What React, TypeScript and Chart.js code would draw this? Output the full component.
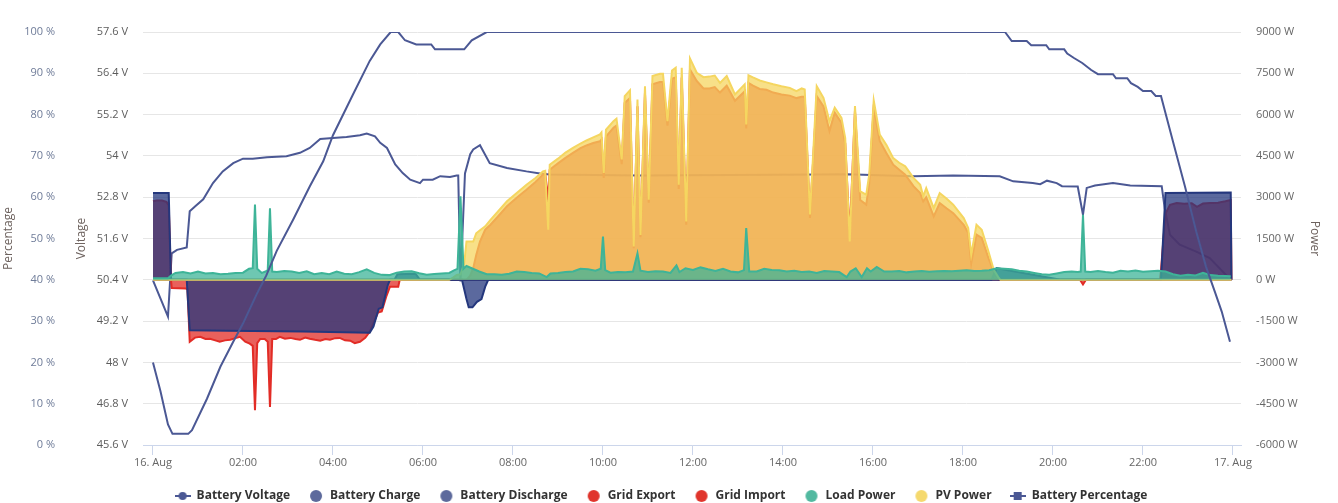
import React, { useEffect, useRef } from 'react';
import Chart from 'chart.js/auto';

// ---------- axis ticks ----------
const xTicks = [0, 120, 240, 360, 480, 600, 720, 840, 960, 1080, 1200, 1320, 1440];
const xTickLabels = ['16. Aug', '02:00', '04:00', '06:00', '08:00', '10:00', '12:00', '14:00', '16:00', '18:00', '20:00', '22:00', '17. Aug'];
const pctTicks = [0, 10, 20, 30, 40, 50, 60, 70, 80, 90, 100];
const voltTicks = [45.6, 46.8, 48, 49.2, 50.4, 51.6, 52.8, 54, 55.2, 56.4, 57.6];
const powerTicks = [-6000, -4500, -3000, -1500, 0, 1500, 3000, 4500, 6000, 7500, 9000];

// ---------- series: [minutes since 16 Aug 00:00, value] ----------
const batteryVoltage: [number, number][] = [
  [0, 50.38], [20, 49.33], [25, 51.17], [32, 51.27], [45, 51.34], [49, 52.39], [56, 52.53], [67, 52.74], [80, 53.21],
  [93, 53.55], [107, 53.79], [120, 53.92], [133, 53.92], [152, 53.96], [178, 53.99], [196, 54.09], [209, 54.23],
  [223, 54.49], [240, 54.52], [258, 54.55], [276, 54.6], [285, 54.65], [296, 54.57], [303, 54.38], [312, 54.23],
  [323, 53.75], [333, 53.5], [343, 53.31], [356, 53.21], [360, 53.31], [373, 53.31], [383, 53.41], [396, 53.39],
  [405, 53.43], [407, 53.43], [410, 50.35], [416, 53.49], [423, 54.05], [427, 54.19], [436, 54.31], [449, 53.79],
  [472, 53.65], [498, 53.55], [516, 53.49], [529, 53.46], [649, 53.43], [889, 53.46], [925, 53.47], [1013, 53.41],
  [1067, 53.43], [1129, 53.41], [1147, 53.26], [1173, 53.21], [1183, 53.18], [1192, 53.28], [1205, 53.21],
  [1212, 53.12], [1233, 53.11], [1240, 52.29], [1245, 53.07], [1256, 53.14], [1280, 53.21], [1303, 53.14],
  [1345, 53.12], [1349, 52.48], [1356, 51.71], [1369, 51.42], [1391, 51.22], [1409, 51.03], [1433, 50.49],
];

const batteryCharge: [number, number][] = [
  [0, 3150], [21, 3150], [24, 0], [322, 0], [326, 200], [350, 220], [356, 0], [1118, 0], [1125, 420], [1210, 0],
  [1344, 0], [1350, 3150], [1437, 3170], [1438, 0],
];

const batteryDischarge: [number, number][] = [
  [0, 0], [45, 0], [49, -1830], [100, -1850], [200, -1880], [289, -1920], [294, -1700], [301, -1050], [306, -1000],
  [313, -200], [316, 0], [412, 0], [418, -700], [421, -1000], [426, -1000], [432, -800], [438, -700], [443, -250],
  [447, 0], [1438, 0],
];

const gridExport: [number, number][] = [
  [0, 0], [418, 0], [423, 150], [427, 420], [431, 900], [436, 1390], [443, 1820], [450, 2000], [460, 2300],
  [472, 2670], [485, 2980], [498, 3270], [510, 3550], [520, 3820], [523, 3860], [527, 2900], [529, 4000],
  [540, 4230], [550, 4430], [560, 4610], [570, 4780], [578, 4880], [587, 4970], [596, 5030], [598, 5100],
  [601, 3700], [604, 5200], [614, 5520], [618, 5600], [625, 4200], [629, 6420], [636, 6600], [641, 1150],
  [646, 6300], [650, 1550], [656, 6780], [661, 2800], [666, 7100], [676, 7180], [680, 7180], [686, 5600],
  [692, 7300], [697, 7350], [701, 3300], [705, 7350], [711, 2000], [716, 7640], [725, 7220], [734, 6950],
  [742, 6950], [749, 7000], [756, 6800], [765, 7050], [776, 6500], [789, 6850], [791, 5500], [794, 7150],
  [800, 7050], [809, 6930], [818, 6900], [827, 6800], [838, 6730], [849, 6690], [858, 6600], [865, 6650],
  [869, 6650], [876, 2250], [885, 6670], [894, 6300], [902, 5400], [909, 6070], [918, 5700], [923, 4950],
  [929, 1600], [936, 6130], [943, 2900], [951, 2730], [955, 3500], [961, 6250], [969, 5040], [978, 4600],
  [987, 4180], [995, 4000], [1003, 3820], [1014, 3400], [1023, 3150], [1027, 2850], [1031, 3000], [1041, 2300],
  [1049, 2790], [1058, 2600], [1067, 2420], [1081, 2000], [1087, 1700], [1091, 600], [1098, 1640], [1105, 1520],
  [1114, 790], [1121, 300], [1127, 0], [1438, 0],
];

const gridImport: [number, number][] = [
  [0, 2850], [5, 2880], [12, 2880], [18, 2830], [21, 2700], [24, 0], [25, -300], [44, -320], [46, -350],
  [49, -2250], [56, -2100], [63, -2070], [70, -2150], [76, -2140], [83, -2200], [89, -2250], [96, -2200],
  [103, -2180], [110, -2120], [116, -2070], [123, -2250], [129, -2320], [133, -2400], [136, -4740], [139, -2300],
  [143, -2150], [149, -2150], [153, -2250], [156, -4620], [159, -2150], [164, -2150], [169, -2070], [176, -2140],
  [183, -2110], [190, -2150], [196, -2180], [203, -2100], [209, -2140], [216, -2180], [223, -2210], [230, -2150],
  [236, -2180], [243, -2120], [249, -2110], [256, -2200], [263, -2210], [269, -2300], [276, -2250], [283, -2110],
  [289, -1890], [296, -1450], [300, -1190], [305, -1150], [311, -610], [316, -250], [327, -250], [329, 0],
  [1236, 0], [1240, -170], [1244, 0], [1343, 0], [1350, 2400], [1356, 2720], [1365, 2790], [1375, 2760],
  [1385, 2780], [1392, 2650], [1400, 2770], [1410, 2790], [1420, 2800], [1430, 2850], [1437, 2900], [1438, 0],
];

const loadPower: [number, number][] = [
  [0, 60], [20, 60], [24, 150], [30, 250], [40, 280], [50, 230], [60, 300], [70, 230], [80, 250], [90, 200],
  [100, 220], [110, 250], [120, 260], [128, 400], [133, 420], [136, 2730], [139, 400], [145, 250], [150, 300],
  [153, 350], [156, 2600], [159, 300], [165, 280], [175, 320], [185, 300], [195, 250], [205, 310], [215, 200],
  [225, 250], [235, 200], [245, 300], [255, 220], [265, 200], [275, 280], [285, 380], [295, 250], [305, 180],
  [315, 170], [325, 260], [335, 300], [345, 310], [355, 240], [365, 180], [375, 210], [385, 230], [395, 250],
  [402, 350], [406, 400], [410, 3030], [414, 400], [418, 500], [425, 420], [435, 300], [445, 200], [455, 200],
  [465, 180], [475, 220], [485, 300], [495, 280], [505, 250], [515, 230], [525, 100], [530, 230], [540, 250],
  [550, 280], [560, 300], [570, 400], [580, 380], [590, 330], [597, 400], [600, 1570], [603, 350], [610, 260],
  [620, 280], [630, 270], [640, 300], [646, 960], [650, 330], [660, 280], [670, 310], [680, 300], [690, 250],
  [698, 520], [702, 280], [710, 420], [720, 360], [730, 450], [740, 380], [750, 320], [760, 400], [770, 300],
  [780, 270], [788, 350], [791, 1880], [795, 300], [805, 300], [815, 400], [825, 360], [835, 350], [845, 300],
  [855, 330], [865, 280], [875, 300], [885, 250], [895, 320], [905, 300], [915, 280], [925, 100], [930, 300],
  [937, 420], [945, 100], [952, 420], [957, 300], [965, 470], [975, 300], [985, 300], [995, 320], [1005, 270],
  [1015, 300], [1025, 320], [1035, 290], [1045, 310], [1055, 320], [1065, 310], [1075, 330], [1085, 350],
  [1095, 320], [1105, 330], [1115, 350], [1125, 420], [1135, 400], [1145, 380], [1155, 330], [1165, 300],
  [1175, 250], [1185, 200], [1195, 180], [1205, 230], [1215, 280], [1225, 300], [1233, 280], [1237, 300],
  [1240, 2360], [1243, 300], [1250, 280], [1260, 320], [1270, 280], [1280, 260], [1290, 330], [1300, 300],
  [1310, 340], [1320, 290], [1330, 310], [1340, 330], [1350, 300], [1360, 200], [1370, 150], [1380, 180],
  [1390, 160], [1400, 250], [1410, 170], [1420, 150], [1430, 140], [1437, 130],
];

const pvPower: [number, number][] = [
  [0, 0], [395, 0], [400, 80], [405, 180], [410, 200], [415, 600], [418, 1390], [427, 1390], [431, 1690],
  [436, 1800], [443, 1940], [450, 2180], [460, 2480], [472, 2850], [485, 3150], [498, 3450], [510, 3700],
  [520, 3940], [523, 3960], [527, 1820], [529, 4180], [540, 4400], [550, 4620], [560, 4790], [570, 4950],
  [578, 5060], [587, 5170], [596, 5280], [598, 5350], [601, 3880], [604, 5450], [614, 5760], [618, 5850],
  [625, 4370], [629, 6670], [636, 6880], [641, 1210], [646, 6550], [650, 1630], [656, 7030], [661, 2910],
  [666, 7400], [676, 7480], [680, 7480], [686, 5760], [692, 7600], [697, 7700], [701, 3450], [705, 7700],
  [711, 2120], [716, 8040], [725, 7520], [734, 7360], [742, 7380], [749, 7420], [756, 7150], [765, 7400],
  [776, 6730], [789, 7100], [791, 5640], [794, 7430], [800, 7350], [809, 7240], [818, 7170], [827, 7100],
  [838, 7030], [849, 6970], [858, 6850], [865, 6950], [869, 6910], [876, 2370], [885, 7030], [894, 6610],
  [902, 5760], [909, 6250], [918, 5880], [923, 5150], [929, 1390], [936, 6310], [943, 3210], [951, 3090],
  [955, 3820], [961, 6510], [969, 5280], [978, 4900], [987, 4420], [995, 4250], [1003, 4120], [1014, 3700],
  [1023, 3450], [1027, 3030], [1031, 3330], [1041, 2600], [1049, 3150], [1058, 2950], [1067, 2730],
  [1081, 2240], [1087, 1880], [1091, 910], [1098, 2000], [1105, 1820], [1114, 1030], [1121, 360], [1127, 100],
  [1130, 0], [1438, 0],
];

const batteryPercentage: [number, number][] = [
  [0, 20], [10, 13], [20, 5], [26, 2.7], [47, 2.7], [52, 3.6], [72, 11.2], [90, 19], [107, 25], [120, 29.4],
  [138, 36.4], [151, 41], [165, 47], [187, 54.6], [209, 62.6], [227, 68.7], [240, 75], [267, 85], [289, 93],
  [303, 97], [317, 100], [327, 100], [336, 98], [351, 97], [371, 97], [376, 95.8], [415, 95.8], [425, 98],
  [445, 100], [1136, 100], [1145, 97.8], [1165, 97.8], [1171, 96.8], [1191, 96.8], [1195, 95.8], [1215, 95.8],
  [1219, 94.8], [1228, 93.7], [1239, 92.5], [1251, 90.8], [1260, 89.8], [1280, 89.8], [1284, 88.8],
  [1299, 88.8], [1304, 87.6], [1313, 86.7], [1320, 85.7], [1331, 85.7], [1337, 84.5], [1344, 84.5],
  [1360, 73.5], [1376, 62.6], [1391, 51.7], [1404, 43.2], [1416, 37], [1425, 32.3], [1436, 25],
];

// ---------- colours ----------
const LINE_COLOR = '#4b5894';
const BATT = [36, 55, 125];
const GRID = [226, 44, 38];
const LOAD = [62, 180, 152];
const PV = [245, 214, 96];
const rgb = (c: number[]) => `rgb(${c[0]},${c[1]},${c[2]})`;
const rgba = (c: number[], a: number) => `rgba(${c[0]},${c[1]},${c[2]},${a})`;

function makeIcon(kind: string, color: string): HTMLCanvasElement {
  const c = document.createElement('canvas');
  c.width = 16;
  c.height = 12;
  const ctx = c.getContext('2d')!;
  ctx.fillStyle = color;
  ctx.strokeStyle = color;
  if (kind === 'circle') {
    ctx.beginPath();
    ctx.arc(8, 6, 6, 0, Math.PI * 2);
    ctx.fill();
  } else {
    ctx.lineWidth = 2;
    ctx.beginPath();
    ctx.moveTo(0, 6);
    ctx.lineTo(16, 6);
    ctx.stroke();
    if (kind === 'lineCircle') {
      ctx.beginPath();
      ctx.arc(8, 6, 4, 0, Math.PI * 2);
      ctx.fill();
    } else {
      ctx.fillRect(4, 2, 8, 8);
    }
  }
  return c;
}

const toXY = (arr: [number, number][]) => arr.map(([x, y]) => ({ x, y }));

export default function App() {
  const ref = useRef<HTMLCanvasElement>(null);

  useEffect(() => {
    document.body.style.margin = '0';
    const canvas = ref.current;
    if (!canvas) return;
    Chart.defaults.font.family = '"Open Sans", "DejaVu Sans", sans-serif';

    const icons = [
      makeIcon('lineCircle', LINE_COLOR),
      makeIcon('circle', '#5d6a9c'),
      makeIcon('circle', '#5d6a9c'),
      makeIcon('circle', '#e0352c'),
      makeIcon('circle', '#e0352c'),
      makeIcon('circle', '#52b9a0'),
      makeIcon('circle', '#f5d96e'),
      makeIcon('lineSquare', LINE_COLOR),
    ];

    const area = (label: string, data: [number, number][], col: number[], order: number) => ({
      type: 'line' as const,
      label,
      data: toXY(data),
      yAxisID: 'yPower',
      borderColor: rgb(col),
      backgroundColor: rgba(col, 0.75),
      borderWidth: 2,
      pointRadius: 0,
      fill: 'origin',
      tension: 0,
      order,
    });

    const defaultLabels = (Chart.defaults.plugins.legend.labels as any).generateLabels;

    const chart = new Chart(canvas, {
      type: 'line',
      data: {
        datasets: [
          {
            label: 'Battery Voltage',
            data: toXY(batteryVoltage),
            yAxisID: 'yVolt',
            borderColor: LINE_COLOR,
            backgroundColor: LINE_COLOR,
            borderWidth: 2,
            pointRadius: 0,
            fill: false,
            tension: 0,
            order: 7,
          },
          area('Battery Charge', batteryCharge, BATT, 4),
          area('Battery Discharge', batteryDischarge, BATT, 3),
          area('Grid Export', gridExport, GRID, 6),
          area('Grid Import', gridImport, GRID, 5),
          area('Load Power', loadPower, LOAD, 1),
          area('PV Power', pvPower, PV, 2),
          {
            label: 'Battery Percentage',
            data: toXY(batteryPercentage),
            yAxisID: 'yPct',
            borderColor: LINE_COLOR,
            backgroundColor: LINE_COLOR,
            borderWidth: 2,
            pointRadius: 0,
            fill: false,
            tension: 0,
            order: 0,
          },
        ] as any,
      },
      options: {
        responsive: false,
        animation: false,
        devicePixelRatio: 1,
        layout: { padding: { top: 32, bottom: -9, left: 0, right: 16 } },
        plugins: {
          tooltip: { enabled: false },
          legend: {
            position: 'bottom',
            labels: {
              usePointStyle: true,
              pointStyleWidth: 16,
              padding: 18,
              color: '#333333',
              font: { size: 12, weight: 'bold', family: '"Open Sans", sans-serif' },
              generateLabels: (ch: any) => {
                const items = defaultLabels(ch);
                items.forEach((it: any) => {
                  it.pointStyle = icons[it.datasetIndex];
                  it.lineWidth = 0;
                });
                return items;
              },
              sort: (a: any, b: any) => a.datasetIndex - b.datasetIndex,
            },
          },
        },
        scales: {
          x: {
            type: 'linear',
            position: 'bottom',
            min: -13.3,
            max: 1450.7,
            afterBuildTicks: (s: any) => {
              s.ticks = xTicks.map((v) => ({ value: v }));
            },
            afterFit: (s: any) => {
              s.height = 27;
            },
            ticks: {
              autoSkip: false,
              maxRotation: 0,
              padding: 1,
              color: '#666666',
              font: { size: 11 },
              callback: (v: any, i: number) => xTickLabels[i],
            },
            grid: { drawOnChartArea: false, drawTicks: true, tickLength: 10, color: '#ccd6eb' },
            border: { color: '#ccd6eb' },
          },
          yPct: {
            type: 'linear',
            position: 'left',
            weight: 10,
            min: 0,
            max: 100,
            afterBuildTicks: (s: any) => {
              s.ticks = pctTicks.map((v) => ({ value: v }));
            },
            afterFit: (s: any) => {
              s.width = 65;
            },
            ticks: { padding: 10, color: '#6f7c99', font: { size: 11 }, callback: (v: any) => `${v} %` },
            grid: { display: false, drawTicks: false, tickLength: 0 },
            border: { display: false },
            title: { display: true, text: 'Percentage', color: '#6d625e', font: { size: 12 }, padding: { top: 1, bottom: 0 } },
          },
          yVolt: {
            type: 'linear',
            position: 'left',
            weight: 5,
            min: 45.6,
            max: 57.6,
            afterBuildTicks: (s: any) => {
              s.ticks = voltTicks.map((v) => ({ value: v }));
            },
            afterFit: (s: any) => {
              s.width = 78;
            },
            ticks: { padding: 15, color: '#5c5c5c', font: { size: 11 }, callback: (v: any) => `${Number(Number(v).toFixed(1))} V` },
            grid: { display: false, drawTicks: false, tickLength: 0 },
            border: { display: false },
            title: { display: true, text: 'Voltage', color: '#6d625e', font: { size: 12 }, padding: { top: 9, bottom: 0 } },
          },
          yPower: {
            type: 'linear',
            position: 'right',
            min: -6000,
            max: 9000,
            afterBuildTicks: (s: any) => {
              s.ticks = powerTicks.map((v) => ({ value: v }));
            },
            afterFit: (s: any) => {
              s.width = 81;
            },
            ticks: { padding: 15, color: '#666666', font: { size: 11 }, callback: (v: any) => `${v} W` },
            grid: { color: '#e6e6e6', drawTicks: false, tickLength: 0 },
            border: { display: false },
            title: { display: true, text: 'Power', color: '#6d625e', font: { size: 12 }, padding: { top: 0, bottom: 0 } },
          },
        },
      } as any,
    });

    return () => chart.destroy();
  }, []);

  return (
    <div style={{ width: 1338, height: 503 }}>
      <canvas ref={ref} width={1338} height={503} style={{ display: 'block' }} />
    </div>
  );
}
